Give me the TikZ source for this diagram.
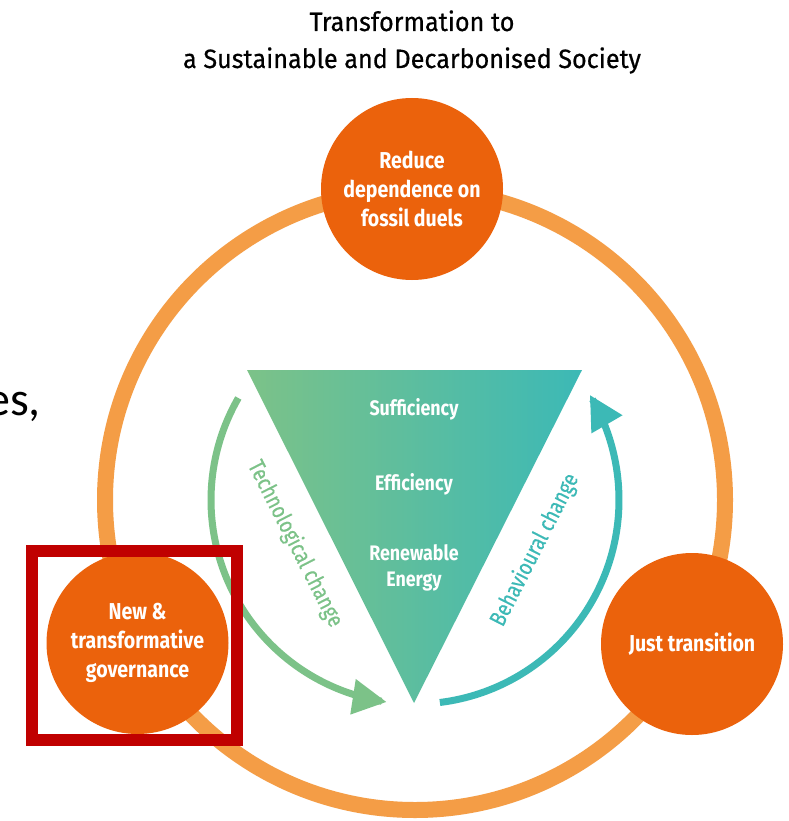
\documentclass[tikz,border=0pt]{standalone}
\usepackage{fontspec}
\setmainfont{Fira Sans}[FakeStretch=0.85]
\newfontfamily\titlefam{Fira Sans}[FakeStretch=0.95, FakeBold=0.5]
\newfontfamily\labelfam{Fira Sans}[FakeStretch=0.82, FakeBold=0.4]
\newfontfamily\esfont{Carlito}
\usetikzlibrary{arrows.meta}
\definecolor{ringor}{HTML}{F49D46}
\definecolor{nodeor}{HTML}{EB620C}
\definecolor{tgreen}{HTML}{7CC288}
\definecolor{tteal}{HTML}{3CB9B6}
\definecolor{boxred}{HTML}{C00000}
\tikzset{
  bignode/.style={circle, fill=nodeor, minimum size=182pt, inner sep=0pt, text=white, align=center,
    font=\bfseries\fontsize{23}{29}\selectfont},
  tritext/.style={text=white, anchor=base, inner sep=0pt, font=\bfseries\fontsize{21}{27}\selectfont},
  sidelabel/.style={inner sep=0pt, font=\labelfam\fontsize{23}{26}\selectfont},
  titletext/.style={anchor=base, inner sep=0pt, font=\titlefam\fontsize{26.5}{30}\selectfont},
  arrowline/.style={line width=7pt, -{Triangle[length=34pt,width=34pt]}}
}
\begin{document}
\begin{tikzpicture}[x=1pt,y=-1pt]
\useasboundingbox (0,0) rectangle (788,821);
\fill[white] (0,0) rectangle (788,821);
% partial word at the left edge
\node[font=\esfont\fontsize{48}{48}\selectfont, anchor=base east, inner sep=0pt] (es) at (41,415) {es,};
% title
\node[titletext] (title1) at (412,31) {Transformation to};
\node[titletext] (title2) at (412,68) {a Sustainable and Decarbonised Society};
% ring
\draw[ringor, line width=16pt] (415,500) circle[radius=310];
% circles
\node[bignode] (top) at (412,189) {Reduce\\dependence on\\fossil duels};
\node[bignode] (right) at (692,644) {Just transition};
\node[bignode] (left) at (137.5,643) {New \&\\transformative\\governance};
% triangle
\shade[left color=tgreen, right color=tteal] (247,370) -- (582,370) -- (414,703) -- cycle;
\node[tritext] (suff) at (414,415) {Sufficiency};
\node[tritext] (eff) at (414,490) {Efficiency};
\node[tritext] (ren) at (414,560) {Renewable};
\node[tritext] (ene) at (414,586) {Energy};
% arrows
\draw[tgreen, arrowline] plot[domain=150:262, samples=80] ({415+204*cos(\x)},{500-204*sin(\x)});
\draw[tteal, arrowline] plot[domain=-83:31, samples=80] ({415+204*cos(\x)},{500-204*sin(\x)});
\node[sidelabel, text=tgreen, rotate=-63] (tech) at (295,544) {Technological change};
\node[sidelabel, text=tteal, rotate=63] (behav) at (535,550) {Behavioural change};
% highlight box
\draw[boxred, line width=12pt] (32,551) rectangle (237,740);
\end{tikzpicture}
\end{document}
